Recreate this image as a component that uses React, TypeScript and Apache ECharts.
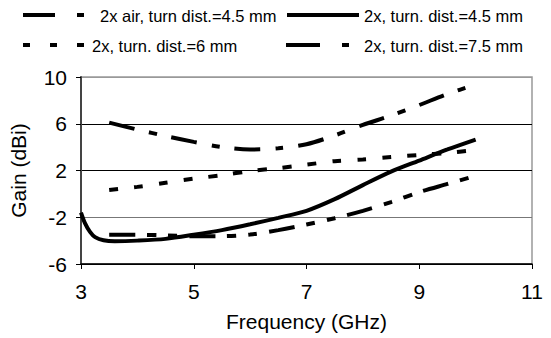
import React, { useEffect, useRef } from 'react';
import * as echarts from 'echarts';

// Frequency (GHz) / Gain (dBi)
const freqAir = [3.5, 4, 4.5, 5, 5.5, 6, 6.5, 7, 7.5, 8, 8.5, 9, 9.5, 10];
const gainAir = [-3.5, -3.5, -3.55, -3.62, -3.62, -3.48, -3.1, -2.62, -2.08, -1.45, -0.7, 0.15, 0.85, 1.55];

const freq45 = [3, 3.07, 3.16, 3.25, 3.4, 3.6, 4, 4.5, 5, 5.5, 6, 6.5, 7, 7.5, 8, 8.5, 9, 9.5, 10];
const gain45 = [-1.6, -2.5, -3.25, -3.7, -3.97, -4.05, -4.0, -3.85, -3.5, -3.1, -2.6, -2.05, -1.45, -0.45, 0.75, 1.9, 2.85, 3.8, 4.65];

const freq6 = [3.5, 4, 4.5, 5, 5.5, 6, 6.5, 7, 7.5, 8, 8.5, 9, 9.5, 10];
const gain6 = [0.33, 0.6, 0.95, 1.3, 1.6, 1.95, 2.2, 2.5, 2.8, 2.95, 3.15, 3.33, 3.5, 3.75];

const freq75 = [3.5, 4, 4.5, 5, 5.5, 6, 6.5, 7, 7.5, 8, 8.5, 9, 9.5, 10];
const gain75 = [6.1, 5.5, 4.95, 4.45, 4.0, 3.8, 3.9, 4.25, 5.0, 5.9, 6.7, 7.6, 8.55, 9.35];

const seriesNames = [
  '2x air, turn dist.=4.5 mm',
  '2x, turn. dist.=4.5 mm',
  '2x, turn. dist.=6 mm',
  '2x, turn. dist.=7.5 mm',
];

const xTicks = [3, 5, 7, 9, 11];
const yTicks = [-6, -2, 2, 6, 10];

const X0 = xTicks[0];
const Y0 = yTicks[0];
const FONT = '"Liberation Sans", Arial, sans-serif';

const DASH_AIR = [26, 12, 9, 12, 9, 12];
const DASH_6 = [9, 16];
const DASH_75 = [26, 15, 8, 15];

const toData = (xs: number[], ys: number[]) => xs.map((x, i) => [x - X0, ys[i] - Y0]);

export default function App() {
  const ref = useRef<HTMLDivElement>(null);
  useEffect(() => {
    if (!ref.current) return;
    const chart = echarts.init(ref.current, null, { renderer: 'svg' });
    const line = (name: string, xs: number[], ys: number[], type: any) => ({
      type: 'line',
      name,
      data: toData(xs, ys),
      symbol: 'none',
      smooth: 0.3,
      lineStyle: { color: '#000', width: 4, type, cap: 'butt' },
      itemStyle: { color: '#000' },
    });
    const legendItem = (name: string, x1: number, x2: number, y: number, textX: number, dash: number[] | null) => ({
      type: 'group',
      children: [
        {
          type: 'line',
          shape: { x1, y1: y, x2, y2: y },
          style: { stroke: '#000', lineWidth: 4, lineDash: dash || undefined, lineCap: 'butt' },
        },
        {
          type: 'text',
          x: textX,
          y: y + 1,
          style: {
            text: name,
            fontFamily: FONT,
            fontSize: 16.5,
            fill: '#000',
            textVerticalAlign: 'middle',
            verticalAlign: 'middle',
          },
        },
      ],
    });
    chart.setOption({
      animation: false,
      backgroundColor: '#fff',
      grid: {
        left: 81,
        right: 19,
        top: 77,
        bottom: 74,
        show: true,
        borderColor: '#999',
        borderWidth: 1.5,
        outerBoundsMode: 'none',
      },
      graphic: [
        legendItem(seriesNames[0], 23, 84, 15, 100, [32, 22, 7, 100]),
        legendItem(seriesNames[1], 287, 359, 15, 364, null),
        legendItem(seriesNames[2], 23, 84, 45, 92, [7, 20]),
        legendItem(seriesNames[3], 286, 349, 45, 364, [34, 22, 7, 100]),
      ],
      xAxis: {
        type: 'value',
        min: 0,
        max: xTicks[xTicks.length - 1] - X0,
        interval: xTicks[1] - xTicks[0],
        name: 'Frequency (GHz)',
        nameLocation: 'middle',
        nameGap: 47,
        nameTextStyle: { fontFamily: FONT, fontSize: 21, color: '#000' },
        axisLine: { show: true, onZero: false, lineStyle: { color: '#000', width: 1.5 } },
        axisTick: { show: true, length: 5, lineStyle: { color: '#000' } },
        axisLabel: {
          fontFamily: FONT,
          fontSize: 21,
          color: '#000',
          margin: 17,
          formatter: (v: number) => String(v + X0),
        },
        splitLine: { show: false },
      },
      yAxis: {
        type: 'value',
        min: 0,
        max: yTicks[yTicks.length - 1] - Y0,
        interval: yTicks[1] - yTicks[0],
        name: 'Gain (dBi)',
        nameLocation: 'middle',
        nameGap: 52,
        nameTextStyle: { fontFamily: FONT, fontSize: 21, color: '#000' },
        axisLine: { show: true, onZero: false, lineStyle: { color: '#444', width: 2 } },
        axisTick: { show: true, length: 5, lineStyle: { color: '#000' } },
        axisLabel: {
          fontFamily: FONT,
          fontSize: 21,
          color: '#000',
          margin: 14,
          formatter: (v: number) => String(v + Y0),
        },
        splitLine: {
          show: true,
          lineStyle: { color: ['#000', '#777', '#000', '#000', '#999'], width: 1 },
        },
      },
      series: [
        line(seriesNames[0], freqAir, gainAir, DASH_AIR),
        line(seriesNames[1], freq45, gain45, 'solid'),
        line(seriesNames[2], freq6, gain6, DASH_6),
        line(seriesNames[3], freq75, gain75, DASH_75),
      ],
    });
    return () => chart.dispose();
  }, []);
  return <div ref={ref} style={{ width: 551, height: 338, position: 'absolute', left: 0, top: 0 }} />;
}
